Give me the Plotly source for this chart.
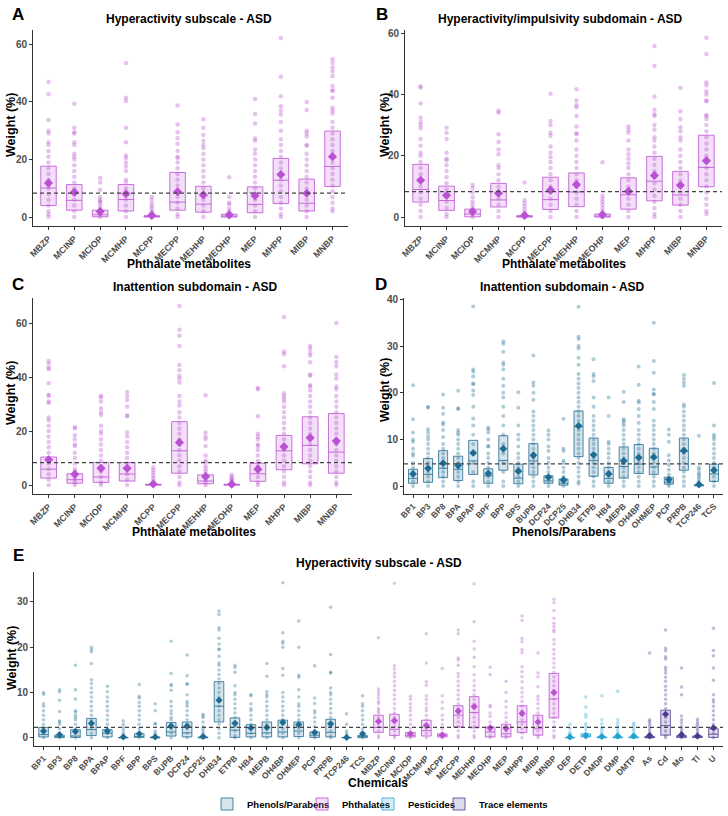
import plotly.graph_objects as go

W, H = 728, 816
FONT = "Liberation Sans, Arial, sans-serif"

PHTH = ["MBZP", "MCINP", "MCIOP", "MCMHP", "MCPP", "MECPP", "MEHHP", "MEOHP", "MEP", "MHPP", "MIBP", "MNBP"]
PHEN = ["BP1", "BP3", "BP8", "BPA", "BPAP", "BPF", "BPP", "BPS", "BUPB", "DCP24", "DCP25", "DHB34", "ETPB",
        "HB4", "MEPB", "OH4BP", "OHMEP", "PCP", "PRPB", "TCP246", "TCS"]
PEST = ["DEP", "DETP", "DMDP", "DMP", "DMTP"]
TRACE = ["As", "Cd", "Mo", "Tl", "U"]

# ---------------- Panel A: Hyperactivity subscale (phthalates) ----------------
A_q1 = [4.0, 2.4, 0.1, 2.1, 0.0, 2.4, 1.7, 0.0, 1.5, 4.7, 2.1, 10.6]
A_med = [10.1, 5.8, 0.8, 6.1, 0.2, 5.2, 4.5, 0.3, 4.4, 12.8, 4.8, 17.6]
A_q3 = [17.7, 11.3, 2.4, 11.3, 0.5, 15.5, 10.7, 1.0, 10.5, 20.4, 13.2, 29.9]
A_mean = [11.8, 8.6, 1.9, 8.1, 0.6, 8.8, 7.7, 0.8, 7.4, 14.8, 8.3, 21.0]
A_pts = [
    [46.9, 42.7, 33.7, 30, 29, 26, 25, 23, 21, 19, 17, 15, 13, 12, 10, 8, 6, 4, 2, 1, 0],
    [39.4, 31, 29.5, 29, 26, 25, 22, 21, 20, 18, 16, 14, 12, 10, 8, 6, 4, 2, 0],
    [13.6, 12, 9.5, 7, 6, 5.5, 5, 4, 3, 2, 1, 0],
    [53.5, 41.5, 40.3, 31, 26, 21.4, 20.5, 19, 17.6, 16, 13, 12, 10, 8, 6, 4, 2, 0],
    [7, 6, 4.7, 3.8, 3, 2, 1.5, 1, 0.5, 0],
    [38.8, 32.2, 29.5, 27.5, 25.5, 23, 21, 20.5, 19, 17, 15, 13, 11, 9, 7, 5, 3, 1, 0],
    [34, 31, 28.5, 26.5, 25, 24, 22, 20, 18, 16, 14, 12, 10, 8, 6, 4, 2, 0],
    [13.8, 7, 5, 4.5, 3, 2, 1, 0],
    [41, 35.8, 32.5, 27.3, 26.5, 23.5, 22, 20, 18, 16, 14, 12, 10, 8, 6, 4, 2, 0],
    [62.2, 48.8, 42, 38.5, 37, 35.6, 33, 30, 27, 25, 23, 21, 19, 17, 15, 13, 11, 9, 7, 5, 3, 1, 0],
    [40, 37.2, 30, 29, 28, 25, 24.8, 22, 20, 18, 16, 14, 12, 10, 8, 6, 4, 2, 0],
    [54.8, 53.5, 52, 50.7, 49, 45.5, 44, 43.9, 41.5, 38, 37, 36, 33, 31, 29, 27, 25, 23, 21, 19, 17, 15, 13,
     11, 9, 7, 5, 3, 2],
]

# ---------------- Panel B: Hyperactivity/impulsivity subdomain ----------------
B_q1 = [4.9, 2.2, 0.1, 3.3, 0.0, 2.5, 3.4, 0.0, 2.6, 5.3, 3.9, 9.9]
B_med = [9.0, 5.4, 1.0, 5.6, 0.2, 5.7, 8.2, 0.3, 7.3, 11.7, 7.2, 16.2]
B_q3 = [17.2, 10.1, 2.6, 11.0, 0.5, 13.0, 14.4, 1.0, 12.8, 19.8, 14.9, 26.7]
B_mean = [12.0, 7.1, 1.8, 7.8, 0.5, 8.8, 10.6, 0.8, 8.4, 13.6, 10.4, 18.4]
B_pts = [
    [42.7, 42.2, 37, 32.4, 31, 30, 29, 25.5, 23.3, 21, 20, 18, 16, 14, 12, 10, 8, 6, 4, 2, 0],
    [29.1, 27.5, 25.5, 21, 19, 18.5, 17, 15, 13, 11, 9, 7, 5, 3, 1, 0],
    [10.5, 9.5, 8, 6.5, 5, 4, 3, 2, 1, 0],
    [34.7, 34, 27, 24.5, 22, 20.5, 17, 16, 14, 12, 10, 8, 6, 4, 2, 0],
    [11.3, 5.5, 4.5, 3.5, 2.5, 1.5, 1, 0.5, 0],
    [40.2, 31.3, 30, 27.5, 26.5, 23, 21, 19.5, 18, 16, 14, 12, 10, 8, 6, 4, 2, 0],
    [41.7, 38, 36.5, 35.8, 33, 29.5, 27.3, 27, 25, 22, 20, 18, 16, 14, 12, 10, 8, 6, 4, 2, 0],
    [17.9, 7, 6, 5, 4, 3, 2, 1, 0],
    [29.5, 28.5, 27.5, 25, 22, 20.5, 19, 17.5, 16, 14, 12, 10, 8, 6, 4, 2, 0],
    [55.8, 49.3, 39.3, 35, 33.5, 33, 30, 28.5, 26, 25, 23, 21, 19, 17, 15, 13, 11, 9, 7, 5, 3, 1, 0],
    [42.2, 34.5, 32, 29.3, 28, 26, 25, 22, 20, 18, 16, 14, 12, 10, 8, 6, 4, 2, 0],
    [58.5, 53.2, 44, 43, 41, 40, 38, 37.8, 33.3, 33, 32, 30, 28, 26, 24, 22, 20, 18, 16, 14, 12, 10, 8, 6,
     4, 2, 1],
]

# ---------------- Panel C: Inattention subdomain (phthalates) ----------------
C_q1 = [2.6, 0.7, 1.0, 1.5, 0.0, 4.4, 0.5, 0.0, 1.4, 5.7, 7.9, 4.4]
C_med = [5.9, 2.0, 3.0, 4.1, 0.1, 12.7, 1.5, 0.1, 4.2, 12.7, 14.7, 12.2]
C_q3 = [10.4, 4.2, 8.4, 8.4, 0.3, 23.5, 3.8, 0.3, 8.1, 18.4, 25.3, 26.5]
C_mean = [9.4, 4.0, 6.2, 6.2, 0.4, 15.8, 3.2, 0.3, 5.9, 14.2, 17.5, 16.3]
C_pts = [
    [46, 45, 43.5, 43, 37.7, 33.5, 33, 31, 30.5, 25, 24, 22, 20, 18, 16, 14, 12, 10, 8, 6, 4, 2, 0],
    [21.5, 21, 18.5, 17, 15, 14.5, 12, 10, 8, 6, 5, 4, 3, 2, 1, 0],
    [33, 32.5, 31, 28.5, 27, 26, 22, 20, 19, 17, 15, 13, 11, 9, 7, 5, 3, 1, 0],
    [34.5, 33, 31.5, 29, 25.8, 25.5, 19.5, 18, 16, 14, 12, 10, 8, 6, 4, 2, 0],
    [6.5, 5.5, 4.5, 3.5, 2.5, 1.5, 1, 0.5, 0],
    [66.3, 57.5, 55.3, 51.5, 44.5, 42.5, 40.5, 39.5, 38, 33, 31, 29.5, 27, 25, 23, 21, 19, 17, 15, 13, 11, 9,
     7, 5, 3, 1, 0],
    [33.3, 19.5, 18, 17, 14.5, 11, 9, 8.5, 7, 6, 5, 4, 3, 2, 1, 0],
    [3.8, 3, 2.5, 2, 1.5, 1, 0.5, 0],
    [36, 35.5, 25.5, 19, 18, 17, 15, 14.5, 13, 11, 9, 7, 5, 3, 1, 0],
    [62.3, 49.5, 48.5, 44, 34, 33, 32, 31, 29, 27, 25, 23, 21, 19, 17, 15, 13, 11, 9, 7, 5, 3, 1, 0],
    [51.5, 50.5, 49, 48, 45.5, 41, 40.5, 37, 36.5, 35, 33, 31, 29, 27, 25, 23, 21, 19, 17, 15, 13, 11, 9, 7,
     5, 3, 1, 0],
    [60, 47.4, 45.5, 44, 41, 39.5, 36.5, 35.5, 33, 31, 29, 27, 25, 23, 21, 19, 17, 15, 13, 11, 9, 7, 5, 3, 1, 0],
]

# ---------------- Panel D: Inattention subdomain (phenols/parabens) ----------------
D_q1 = [0.6, 0.8, 1.8, 1.2, 2.5, 0.6, 3.4, 0.5, 2.4, 0.6, 0.2, 6.3, 2.1, 0.6, 1.7, 2.7, 2.5, 0.4, 3.4, 0.05, 1.0]
D_med = [1.6, 2.5, 3.8, 3.6, 5.4, 2.2, 5.5, 1.7, 5.4, 1.1, 0.6, 12.7, 5.5, 1.6, 4.2, 4.7, 4.1, 0.8, 7.4, 0.1, 2.6]
D_q3 = [3.6, 5.9, 7.6, 6.4, 9.8, 3.7, 10.8, 4.7, 9.1, 2.2, 1.5, 16.1, 10.3, 4.0, 8.4, 8.9, 8.1, 1.9, 10.3, 0.3, 4.7]
D_mean = [2.6, 3.8, 4.9, 4.4, 7.1, 2.7, 8.0, 3.2, 6.6, 1.9, 1.3, 12.9, 6.7, 2.6, 5.4, 6.1, 6.2, 1.4, 7.6, 0.35, 3.4]
D_pts = [
    [21.6, 14.3, 11.5, 10, 9.5, 8, 7, 6.5, 5, 4, 3, 2, 1, 0],
    [17, 16.8, 12.2, 11.5, 10.7, 10, 9, 8, 7, 6, 5, 4, 3, 2, 1, 0],
    [19.6, 16.8, 15.5, 13.6, 13.2, 12, 10.5, 9, 8, 7, 6, 5, 4, 3, 2, 1, 0],
    [20.4, 16.7, 16.5, 12, 11.5, 11, 10, 9, 8, 7, 6, 5, 4, 3, 2, 1, 0],
    [38.5, 25, 24.5, 23.5, 22, 21.8, 20.5, 19.5, 17, 14.5, 13, 11, 9, 7, 5, 3, 1, 0],
    [12.5, 12.2, 11.5, 10, 8.6, 8.5, 7, 6, 5, 4, 3, 2, 1, 0],
    [31, 30.5, 28.8, 26.5, 26, 25, 23, 21.5, 20, 19, 17, 15, 13, 11, 9, 7, 5, 3, 1, 0],
    [20.1, 16.8, 13, 11, 10, 8.5, 7, 6, 5, 4, 3, 2, 1, 0],
    [28, 22.2, 21.5, 20, 18.5, 16, 15, 14, 13, 12, 11, 10, 9, 8, 7, 6, 5, 4, 3, 2, 1, 0],
    [11.9, 11, 10, 8.5, 7.5, 6, 5, 4, 3, 2, 1, 0],
    [14.4, 8, 7.5, 5.5, 5, 4, 3, 2, 1, 0],
    [38.4, 32, 31.5, 30, 29.5, 27.5, 26, 24, 23, 22, 21, 20, 19, 18, 17, 16, 15, 14, 13, 12, 11, 10, 9, 8, 7,
     6, 5, 4, 3, 2, 1, 0.5],
    [27.2, 24, 23.5, 22.5, 19, 17, 15, 14, 13, 12, 11, 10, 9, 8, 7, 6, 5, 4, 3, 2, 1, 0],
    [19, 15, 9.5, 9, 8, 7, 6, 5, 4, 3, 2, 1, 0],
    [20.2, 18, 14.3, 14, 13.5, 13, 12, 11, 10, 9, 8, 7, 6, 5, 4, 3, 2, 1, 0],
    [25.6, 21.7, 18.3, 17.9, 16.5, 15, 13.5, 12, 11, 10, 9, 8, 7, 6, 5, 4, 3, 2, 1, 0],
    [35, 26.8, 24.3, 20.7, 19.8, 19.6, 18, 16.5, 14, 13, 12, 11, 10, 9, 8, 7, 6, 5, 4, 3, 2, 1, 0],
    [12.1, 11, 9.5, 6.6, 5.5, 4.5, 3.5, 2.5, 1.5, 0.5, 0],
    [23.8, 23, 22.2, 21.5, 17.5, 17, 16, 15, 14, 13, 12, 11, 10, 9, 8, 7, 6, 5, 4, 3, 2, 1, 0],
    [10.8, 4, 3.5, 2.8, 2.5, 2, 1.5, 1, 0.5, 0],
    [22.1, 13, 11, 10.5, 10, 9, 8, 7, 6, 5, 4, 3, 2, 1, 0],
]

# ---------------- Panel E: Hyperactivity subscale (all chemicals) ----------------
E_phen_q1 = [0.2, 0.05, 0.1, 0.5, 0.2, 0, 0.1, 0, 0.4, 0.2, 0, 3.5, 0.1, 0.2, 0.2, 0.2, 0.3, 0.1, 0.2, 0, 0.05]
E_phen_med = [0.7, 0.2, 0.4, 1.8, 1.0, 0.05, 0.3, 0.05, 1.3, 1.1, 0.05, 7.0, 1.7, 1.0, 1.1, 1.3, 1.5, 0.6, 1.2, 0.05, 0.2]
E_phen_q3 = [2.3, 0.6, 1.8, 4.3, 1.8, 0.1, 0.9, 0.2, 3.4, 3.5, 0.2, 12.4, 4.4, 2.9, 3.5, 3.9, 3.5, 1.3, 4.1, 0.1, 0.5]
E_phen_mean = [1.5, 0.7, 1.4, 3.2, 1.5, 0.2, 0.9, 0.2, 2.6, 2.6, 0.3, 8.3, 3.2, 2.2, 2.3, 3.4, 2.9, 1.2, 3.1, 0.1, 0.9]
E_phen_pts = [
    [10, 9.6, 7.5, 7, 6, 5, 4, 3, 2, 1, 0],
    [10.6, 10.2, 8.3, 5.8, 3.7, 3.5, 3, 2, 1, 0],
    [16, 10.6, 8.6, 6, 5.7, 5, 4.5, 4, 3, 2, 1, 0],
    [20, 19.5, 19, 16.4, 12.8, 12, 11, 10, 9, 8, 7, 6, 5, 4, 3, 2, 1, 0],
    [11.4, 10.2, 9, 8, 7, 6, 5, 4, 3, 2, 1, 0],
    [3.8, 3, 2.3, 1.7, 1, 0.5, 0],
    [11.8, 9.2, 8.8, 7.8, 7, 6, 5, 4, 3, 2, 1, 0],
    [7.5, 6, 3.2, 3, 1.5, 1, 0.5, 0],
    [21.3, 14.2, 11.8, 11.5, 10.5, 8, 7, 6, 5.3, 4.5, 4, 3, 2, 1, 0],
    [18.3, 13.7, 12, 11.8, 9.5, 8, 7.5, 7, 6, 5, 4, 3, 2, 1, 0],
    [5.2, 4.8, 4.5, 3.5, 2.5, 2, 1.5, 1, 0.5, 0],
    [28, 27.2, 24.3, 23.8, 22, 20.7, 19.6, 19.5, 18, 16.5, 16, 15, 14, 13, 12, 11, 10, 9, 8, 7, 6, 5, 4, 3, 2,
     1, 0],
    [16, 15.5, 14.5, 11.5, 10, 9.5, 8.5, 7.5, 6.5, 5.5, 4.5, 3.5, 2.5, 1.5, 0.5, 0],
    [9.5, 9.3, 7.5, 6.5, 6, 5, 4, 3, 2, 1, 0],
    [16.4, 13.6, 10.2, 9.5, 9, 8, 7, 6, 5, 4, 3, 2, 1, 0],
    [34.2, 23.2, 21.3, 20.9, 20, 15.3, 13.8, 10, 9, 8, 7, 6, 5, 4, 3, 2, 1, 0],
    [25.8, 20, 13.8, 13.4, 10.6, 9, 7.5, 7, 6, 5, 4, 3, 2, 1, 0],
    [15.9, 8.8, 7.6, 6, 5.5, 4.5, 3.5, 2.5, 1.5, 0.5, 0],
    [28.8, 18.4, 14.5, 14.3, 11, 10, 9.5, 8.5, 7.5, 6.5, 5.5, 4.5, 3.5, 2.5, 1.5, 0.5, 0],
    [5.3, 3, 1.5, 1, 0.5, 0],
    [9.3, 7.5, 7, 6, 5, 4, 3, 2, 1, 0],
]
E_phth_q1 = [1.2, 0.5, 0.2, 0.4, 0.2, 2.4, 2.2, 0.2, 0.2, 1.2, 0.6, 4.4]
E_phth_med = [2.3, 1.9, 0.5, 1.6, 0.5, 5.0, 5.6, 1.3, 0.9, 3.5, 2.0, 8.6]
E_phth_q3 = [5.0, 5.2, 1.2, 3.9, 0.9, 7.1, 9.1, 2.4, 3.0, 7.1, 5.0, 14.2]
E_phth_mean = [3.6, 3.8, 0.9, 2.7, 0.6, 5.9, 6.9, 2.2, 2.1, 5.4, 3.5, 10.0]
E_phth_pts = [
    [22.1, 10.8, 10.2, 9.5, 8.8, 8, 7.5, 6.5, 6, 5.5, 4.5, 3.5, 2.5, 1.5, 0.5, 0],
    [34.1, 15.9, 15.2, 14.3, 13.5, 12.5, 11.5, 10.5, 9.5, 8.5, 7.5, 6.5, 5.5, 4.5, 3.5, 2.5, 1.5, 0.5, 0],
    [9.2, 8.5, 7.5, 6.7, 6, 5, 4, 3, 2, 1, 0],
    [23, 16.5, 12.4, 11.6, 9.3, 8.5, 7.5, 6.6, 6, 5, 4, 3, 2, 1, 0],
    [15.3, 9.3, 7.9, 6.5, 5, 4, 3, 2, 1, 0],
    [23.8, 23.0, 17.6, 17.2, 16, 14.2, 13.5, 12.5, 11.5, 10.5, 9.5, 8.5, 7.5, 6.5, 5.5, 4.5, 3.5, 2.5, 1.5,
     0.5, 0],
    [34, 25.6, 21.3, 19.6, 17.8, 15.7, 13.9, 12.6, 11.5, 10.5, 9.5, 8.5, 7.5, 6.5, 5.5, 4.5, 3.5, 2.5, 1.5,
     0.5, 0],
    [15.6, 14.0, 7.2, 6.8, 5.5, 4.7, 3.5, 2.5, 1.5, 0.5, 0],
    [12.5, 10, 8.1, 6.8, 5.5, 4.5, 3.5, 2.5, 1.5, 0.5, 0],
    [26.9, 25.9, 21.9, 21.2, 19.5, 18.8, 15.7, 14.6, 13.5, 12.4, 11, 10, 9, 8, 7, 6, 5, 4, 3, 2, 1, 0],
    [18.7, 14.3, 13.5, 11.3, 9.2, 8.4, 7.5, 6.5, 5.5, 4.5, 3.5, 2.5, 1.5, 0.5, 0],
    [30.6, 29.8, 28.1, 26.4, 25.3, 24.6, 23.8, 23.4, 21.7, 20.7, 19.5, 18.5, 17.5, 16.5, 15.5, 14.5, 13.5,
     12.5, 11.5, 10.5, 9.5, 8.5, 7.5, 6.5, 5.5, 4.5, 3.5, 2.5, 1.5, 0.5, 0],
]
E_pest_q1 = [0, 0.2, 0, 0, 0]
E_pest_med = [0.05, 0.3, 0.1, 0.1, 0.1]
E_pest_q3 = [0.1, 0.9, 0.2, 0.2, 0.2]
E_pest_mean = [0.2, 0.5, 0.3, 0.4, 0.4]
E_pest_pts = [
    [3, 2, 1.2, 0.8, 0.5, 0],
    [9, 6.8, 5.2, 4.6, 3.1, 2.5, 1.8, 1, 0.5, 0],
    [9.3, 4, 3.1, 2.3, 1.8, 1.2, 0.6, 0],
    [10.3, 4.0, 3.3, 2.6, 1.8, 1.2, 0.6, 0],
    [3.2, 2.8, 2.2, 1.6, 1.0, 0.5, 0],
]
E_trace_q1 = [0, 0.6, 0.05, 0.05, 0.1]
E_trace_med = [0.1, 2.7, 0.2, 0.15, 0.8]
E_trace_q3 = [0.3, 6.1, 0.5, 0.4, 2.0]
E_trace_mean = [0.5, 5.2, 0.7, 0.4, 2.2]
E_trace_pts = [
    [18.7, 4.0, 3.6, 3.1, 2.6, 2.0, 1.5, 1.0, 0.5, 0],
    [23.8, 19.8, 19.2, 17.9, 17.4, 15.6, 15, 14.3, 13.4, 12.5, 11.4, 10.5, 9.5, 8.5, 7.5, 6.5, 5.5, 4.5, 3.5,
     2.5, 1.5, 0.5, 0],
    [15.4, 11.2, 9.5, 4.8, 4.0, 3.3, 2.5, 2, 1.5, 1, 0.5, 0],
    [4.1, 3.5, 3.0, 2.5, 2.0, 1.5, 1.0, 0.5, 0],
    [24.2, 19.3, 18.1, 15.4, 12.7, 9.5, 8.4, 7.9, 7, 6, 5, 4, 3, 2, 1, 0],
]

# ---------------- styling ----------------
COL = {"Phenols/Parabens": "31,108,146", "Phthalates": "186,80,210",
       "Pesticides": "30,162,212", "Trace elements": "76,58,142"}
LEG = {"Phenols/Parabens": "legend", "Phthalates": "legend2",
       "Pesticides": "legend3", "Trace elements": "legend4"}

fig = go.Figure()


def add_group(ax, cats, q1, med, q3, mean, pts, group, legend=False, psize=4.5, msize=7):
    xa = "x" if ax == 1 else "x%d" % ax
    ya = "y" if ax == 1 else "y%d" % ax
    rgb = COL[group]
    fig.add_trace(go.Box(
        x=cats, q1=q1, median=med, q3=q3, lowerfence=q1, upperfence=q3,
        width=0.6, whiskerwidth=0, boxpoints=False,
        line=dict(color="rgba(%s,0.8)" % rgb, width=1),
        fillcolor="rgba(%s,0.18)" % rgb,
        name=group, showlegend=legend, legend=LEG[group],
        xaxis=xa, yaxis=ya, hoverinfo="skip"))
    xs, ys = [], []
    for c, vals in zip(cats, pts):
        xs += [c] * len(vals)
        ys += vals
    fig.add_trace(go.Scatter(
        x=xs, y=ys, mode="markers", xaxis=xa, yaxis=ya, showlegend=False, hoverinfo="skip",
        marker=dict(color="rgba(%s,0.35)" % rgb, size=psize, line=dict(width=0))))
    fig.add_trace(go.Scatter(
        x=cats, y=mean, mode="markers", xaxis=xa, yaxis=ya, showlegend=False, hoverinfo="skip",
        marker=dict(color="rgb(%s)" % rgb, size=msize, symbol="diamond", line=dict(width=0))))


add_group(1, PHTH, A_q1, A_med, A_q3, A_mean, A_pts, "Phthalates")
add_group(2, PHTH, B_q1, B_med, B_q3, B_mean, B_pts, "Phthalates")
add_group(3, PHTH, C_q1, C_med, C_q3, C_mean, C_pts, "Phthalates")
add_group(4, PHEN, D_q1, D_med, D_q3, D_mean, D_pts, "Phenols/Parabens", psize=4, msize=6)
add_group(5, PHEN, E_phen_q1, E_phen_med, E_phen_q3, E_phen_mean, E_phen_pts, "Phenols/Parabens", True, 3.5, 5.5)
add_group(5, PHTH, E_phth_q1, E_phth_med, E_phth_q3, E_phth_mean, E_phth_pts, "Phthalates", True, 3.5, 5.5)
add_group(5, PEST, E_pest_q1, E_pest_med, E_pest_q3, E_pest_mean, E_pest_pts, "Pesticides", True, 3.5, 5.5)
add_group(5, TRACE, E_trace_q1, E_trace_med, E_trace_q3, E_trace_mean, E_trace_pts, "Trace elements", True, 3.5, 5.5)


def px(x, y):
    return x / W, 1 - y / H


# panel geometry in pixels: (left, right, top, bottom)
PANELS = {
    1: (33, 348, 30, 226),
    2: (405, 722, 30, 226),
    3: (33, 352, 298, 494),
    4: (404, 723, 298, 494),
    5: (34, 723, 572, 746),
}
YR = {1: [-3.1, 65], 2: [-2.9, 61], 3: [-3.3, 69.3], 4: [-1.7, 40.3], 5: [-1.8, 36.6]}
YT = {1: [0, 20, 40, 60], 2: [0, 20, 40, 60], 3: [0, 20, 40, 60], 4: [0, 10, 20, 30, 40], 5: [0, 10, 20, 30]}
CATS = {1: PHTH, 2: PHTH, 3: PHTH, 4: PHEN, 5: PHEN + PHTH + PEST + TRACE}
TFS = {1: 9, 2: 9, 3: 9, 4: 8.5, 5: 8.5}

layout = {}
shapes = []
for k, (l, r, t, b) in PANELS.items():
    xk = "xaxis" if k == 1 else "xaxis%d" % k
    yk = "yaxis" if k == 1 else "yaxis%d" % k
    n = len(CATS[k])
    layout[xk] = dict(
        domain=[l / W, r / W], anchor="y" if k == 1 else "y%d" % k, automargin=False,
        type="category", categoryorder="array", categoryarray=CATS[k],
        range=[-0.6, n - 0.4], showgrid=False, zeroline=False,
        showline=True, linecolor="#333333", linewidth=1,
        ticks="outside", ticklen=3, tickcolor="#333333", tickangle=-45,
        tickfont=dict(family=FONT, size=TFS[k], color="#4D4D4D", weight="bold"))
    layout[yk] = dict(
        domain=[1 - b / H, 1 - t / H], anchor="x" if k == 1 else "x%d" % k, automargin=False,
        range=YR[k], tickvals=YT[k], showgrid=False, zeroline=False,
        showline=True, linecolor="#333333", linewidth=1,
        ticks="outside", ticklen=3, tickcolor="#333333",
        tickfont=dict(family=FONT, size=10, color="#4D4D4D", weight="bold"))
    shapes.append(dict(type="line", xref=("x" if k == 1 else "x%d" % k) + " domain",
                       yref="y" if k == 1 else "y%d" % k, x0=0, x1=1, y0=100 / n, y1=100 / n,
                       line=dict(color="#444444", width=1.3, dash="4px,3px")))

ann = []


def text(x, y, s, size, angle=0, xanchor="center"):
    ax_, ay_ = px(x, y)
    ann.append(dict(x=ax_, y=ay_, xref="paper", yref="paper", text=s, showarrow=False,
                    textangle=angle, xanchor=xanchor, yanchor="middle",
                    font=dict(family=FONT, size=size, color="#000000", weight="bold")))


# panel letters
text(18, 14, "A", 17)
text(382, 14, "B", 17)
text(18, 284, "C", 17)
text(381, 284, "D", 17)
text(18, 555, "E", 17)
# titles
text(189, 19, "Hyperactivity subscale - ASD", 12)
text(560, 19, "Hyperactivity/impulsivity subdomain - ASD", 12)
text(195, 287, "Inattention subdomain - ASD", 12)
text(562, 287, "Inattention subdomain - ASD", 12)
text(379, 563, "Hyperactivity subscale - ASD", 12)
# y titles
text(11, 125, "Weight (%)", 12.5, -90)
text(385, 125, "Weight (%)", 12.5, -90)
text(11, 393, "Weight (%)", 12.5, -90)
text(385, 390, "Weight (%)", 12.5, -90)
text(12, 658, "Weight (%)", 12.5, -90)
# x titles
text(189, 264, "Phthalate metabolites", 12)
text(564, 264, "Phthalate metabolites", 12)
text(194, 532, "Phthalate metabolites", 12)
text(564, 532, "Phenols/Parabens", 12)
text(378, 783, "Chemicals", 12)

legends = {}
LEG_X = {"legend": 207, "legend2": 302, "legend3": 368, "legend4": 439}
for key, lx in LEG_X.items():
    legends[key] = dict(orientation="h", x=lx / W, xanchor="left", y=1 - 804 / H, yanchor="middle",
                        font=dict(family=FONT, size=9.5, color="#000000", weight="bold"),
                        itemwidth=30, bgcolor="rgba(0,0,0,0)", borderwidth=0)

fig.update_layout(
    width=W, height=H, margin=dict(l=0, r=0, t=0, b=0, autoexpand=False),
    paper_bgcolor="white", plot_bgcolor="white", boxmode="overlay",
    font=dict(family=FONT),
    shapes=shapes, annotations=ann,
    **legends, **layout)

fig.write_html("out.html", post_script="document.body.style.margin='0';",
               config={"displayModeBar": False})
